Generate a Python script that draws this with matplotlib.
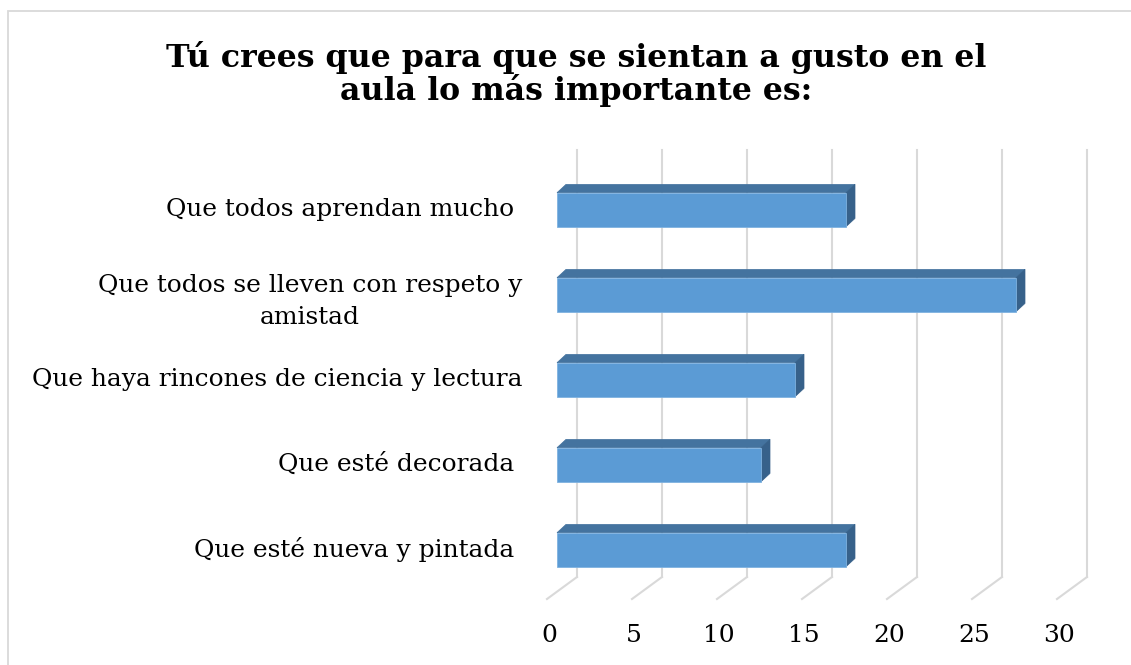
import matplotlib
matplotlib.use("Agg")
import matplotlib.pyplot as plt
from matplotlib.patches import Rectangle, Polygon
import numpy as np

# data, top to bottom as shown
categories = ["Que todos aprendan mucho ",
              "Que todos se lleven con respeto y\namistad",
              "Que haya rincones de ciencia y lectura",
              "Que esté decorada ",
              "Que esté nueva y pintada "]
values = [17, 27, 14, 12, 17]
xticks = [0, 5, 10, 15, 20, 25, 30]
title = "Tú crees que para que se sientan a gusto en el\naula lo más importante es:"

W, H = 1131, 665
PX_X = 17.0    # pixels per unit of value
PX_Y = 85.0    # pixels per category
X0 = 557.0     # pixel of value 0 on bar front face
Y0 = 209.7     # pixel of first category centre

front_col = "#5B9BD5"
top_col = "#44739F"
side_col = "#37618A"
grid_col = "#D9D9D9"
font = "DejaVu Serif"

fig = plt.figure(figsize=(W / 100, H / 100), dpi=100)
ax = fig.add_axes([0, 0, 1, 1])
ax.set_xlim(-X0 / PX_X, (W - X0) / PX_X)
ax.set_ylim((H - Y0) / PX_Y, -Y0 / PX_Y)
ax.axis("off")

# 3d offsets (converted from pixels to data units)
bar_dx, bar_dy = 9 / PX_X, -8.3 / PX_Y
wall_dx = 20 / PX_X
wall_top, wall_bot = (150 - Y0) / PX_Y, (577 - Y0) / PX_Y
floor_dx, floor_y = -10 / PX_X, (599 - Y0) / PX_Y
lab_y = (636 - Y0) / PX_Y
h = 0.4

# back wall gridlines and floor lines
for t in xticks:
    ax.plot([t + wall_dx, t + wall_dx], [wall_top, wall_bot], color=grid_col, lw=1.5, zorder=1)
    ax.plot([t + wall_dx, t + floor_dx], [wall_bot, floor_y], color=grid_col, lw=1.5, zorder=1)
    ax.text(t + floor_dx + 0.12, lab_y, str(t), ha="center", va="center",
            fontsize=18, family=font, color="black")

# bars
for i, v in enumerate(values):
    top = i - h / 2
    bot = i + h / 2
    ax.add_patch(Polygon([(0, top), (v, top), (v + bar_dx, top + bar_dy), (bar_dx, top + bar_dy)],
                         closed=True, facecolor=top_col, edgecolor=top_col, lw=0.5, zorder=3))
    ax.add_patch(Polygon([(v, top), (v + bar_dx, top + bar_dy), (v + bar_dx, bot + bar_dy), (v, bot)],
                         closed=True, facecolor=side_col, edgecolor=side_col, lw=0.5, zorder=3))
    ax.add_patch(Rectangle((0, top), v, h, facecolor=front_col, edgecolor="#7FB2E0", lw=0.6, zorder=4))

# category labels (wrapped ones sit a little lower, like Excel does)
lab_x = (522 - X0) / PX_X
for i, c in enumerate(categories):
    shift = 0.08 * c.count("\n")
    ax.text(lab_x, i + shift, c, ha="right", va="center", multialignment="center",
            fontsize=17.9, family=font, color="black", linespacing=1.5)

fig.text(576 / W, 1 - 74 / H, title, ha="center", va="center", fontsize=22.8,
         fontweight="bold", family=font, color="black", linespacing=1.03)

# outer chart border
fig.patches.append(Rectangle((8 / W, -0.1), 1.2, 1 - 11 / H + 0.1, transform=fig.transFigure,
                             fill=False, edgecolor=grid_col, lw=1.3))

fig.savefig("out.png", dpi=100, facecolor="white")
